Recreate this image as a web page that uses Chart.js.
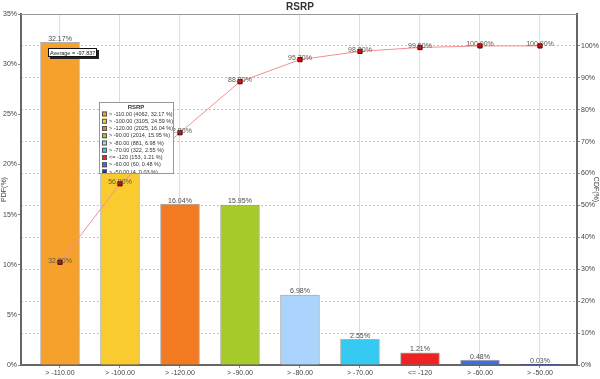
<!DOCTYPE html>
<html>
<head>
<meta charset="utf-8">
<script src="https://cdn.jsdelivr.net/npm/chart.js@4/dist/chart.umd.min.js"></script>
<style>
  body { margin: 0; background: #fff; }
  #wrap { width: 600px; height: 379px; }
</style>
</head>
<body>
<div id="wrap"><canvas id="rsrpChart" width="600" height="379"></canvas></div>
<script>
// bins of RSRP, in the order the source tool shows them
const categories = ["> -110.00", "> -100.00", "> -120.00", "> -90.00", "> -80.00", "> -70.00", "<= -120", "> -60.00", "> -50.00"];
const counts = [4062, 3105, 2025, 2014, 881, 322, 153, 60, 4];
const pdfValues = [32.17, 24.59, 16.04, 15.95, 6.98, 2.55, 1.21, 0.48, 0.03];
const cdfValues = [32.20, 56.80, 72.80, 88.80, 95.70, 98.30, 99.50, 100.00, 100.00];
const pdfTicks = [0, 5, 10, 15, 20, 25, 30, 35];
const cdfTicks = [0, 10, 20, 30, 40, 50, 60, 70, 80, 90, 100];
const averageText = "Average = -97.837";
const legendTitle = "RSRP";

const barColors = ["#F5A12B", "#F9CB2F", "#F27B22", "#A7CB2B", "#AAD4FB", "#36C9F2", "#EE2222", "#3D6FE0", "#1133CC"];

const FONT = '"Liberation Sans", Arial, sans-serif';
const tickFont = { family: FONT, size: 7 };

// value labels, average box and legend drawn over the plot
const overlay = {
  id: "overlay",
  afterDatasetsDraw(chart) {
    const ctx = chart.ctx;
    const a = chart.chartArea;
    ctx.save();

    // top border of the plot
    ctx.strokeStyle = "#999";
    ctx.lineWidth = 1;
    ctx.beginPath();
    ctx.moveTo(a.left, a.top + 0.5);
    ctx.lineTo(a.right, a.top + 0.5);
    ctx.stroke();

    ctx.font = "7px " + FONT;
    ctx.fillStyle = "#4a4a4a";
    ctx.textAlign = "center";
    ctx.textBaseline = "bottom";
    chart.getDatasetMeta(0).data.forEach((bar, i) => {
      ctx.fillText(pdfValues[i].toFixed(2) + "%", bar.x, bar.y);
    });
    ctx.fillStyle = "#5e5a4c";
    chart.getDatasetMeta(1).data.forEach((pt, i) => {
      ctx.fillText(cdfValues[i].toFixed(2) + "%", pt.x, pt.y + 2);
    });

    // average box
    ctx.fillStyle = "#222";
    ctx.fillRect(50, 50, 49, 9);
    ctx.fillStyle = "#fff";
    ctx.fillRect(48, 48, 49, 9);
    ctx.strokeStyle = "#111";
    ctx.strokeRect(48.5, 48.5, 48, 8);
    ctx.fillStyle = "#222";
    ctx.font = "5.5px " + FONT;
    ctx.textAlign = "left";
    ctx.textBaseline = "middle";
    ctx.fillText(averageText, 50, 53);

    // legend
    const lx = 99, ly = 102, lw = 74, lh = 71;
    ctx.fillStyle = "#fff";
    ctx.fillRect(lx, ly, lw, lh);
    ctx.strokeStyle = "#999";
    ctx.strokeRect(lx + 0.5, ly + 0.5, lw, lh);
    ctx.fillStyle = "#333";
    ctx.font = "bold 6px " + FONT;
    ctx.textAlign = "center";
    ctx.fillText(legendTitle, lx + lw / 2, ly + 5);
    ctx.font = "5.5px " + FONT;
    ctx.textAlign = "left";
    ctx.beginPath();
    ctx.rect(lx, ly, lw, lh);
    ctx.clip();
    categories.forEach((c, i) => {
      const y = ly + 12 + i * 7.25;
      ctx.fillStyle = barColors[i];
      ctx.fillRect(lx + 3, y - 2.5, 5, 5);
      ctx.strokeStyle = "#555";
      ctx.strokeRect(lx + 3.5, y - 2, 4, 4);
      ctx.fillStyle = "#333";
      ctx.fillText(c + " (" + counts[i] + ", " + pdfValues[i].toFixed(2) + " %)", lx + 10, y);
    });
    ctx.restore();
  }
};

new Chart(document.getElementById("rsrpChart"), {
  type: "bar",
  data: {
    datasets: [
      {
        type: "bar",
        label: "PDF",
        data: pdfValues.map((v, i) => ({ x: i, y: v })),
        backgroundColor: barColors,
        borderColor: "rgba(110,110,110,0.55)",
        borderWidth: 1,
        barThickness: 39,
        yAxisID: "y",
        order: 2
      },
      {
        type: "line",
        label: "CDF",
        data: cdfValues.map((v, i) => ({ x: i, y: v })),
        borderColor: "#F29090",
        borderWidth: 1,
        pointStyle: "rect",
        pointRadius: 3,
        pointBackgroundColor: "#E00000",
        pointBorderColor: "#5a0000",
        pointBorderWidth: 1,
        yAxisID: "y1",
        order: 1
      }
    ]
  },
  options: {
    responsive: false,
    animation: false,
    layout: { padding: 0 },
    plugins: {
      legend: { display: false },
      tooltip: { enabled: false },
      title: {
        display: true,
        text: "RSRP",
        color: "#333",
        font: { family: FONT, size: 10, weight: "bold" },
        padding: { top: 1, bottom: 1 }
      }
    },
    scales: {
      x: {
        type: "linear",
        offset: false,
        min: -0.65,
        max: 8.617,
        afterBuildTicks: s => { s.ticks = categories.map((_, i) => ({ value: i })); },
        afterFit: s => { s.height = 14; },
        ticks: {
          callback: v => categories[v],
          font: tickFont,
          color: "#444",
          padding: 1,
          maxRotation: 0,
          autoSkip: false
        },
        grid: { offset: false, color: "#dedede", lineWidth: 1, tickLength: 3, tickColor: "#888" },
        border: { color: "#666", width: 2 }
      },
      y: {
        position: "left",
        min: 0,
        max: 35,
        afterBuildTicks: s => { s.ticks = pdfTicks.map(v => ({ value: v })); },
        afterFit: s => { s.width = 21; },
        ticks: { callback: v => v + "%", font: tickFont, color: "#444", padding: 1 },
        grid: { drawOnChartArea: false, tickLength: 3, tickColor: "#888" },
        border: { color: "#666", width: 2 },
        title: { display: true, text: "PDF(%)", font: tickFont, color: "#444", padding: 0 }
      },
      y1: {
        position: "right",
        min: 0,
        max: 110,
        afterBuildTicks: s => { s.ticks = cdfTicks.map(v => ({ value: v })); },
        afterFit: s => { s.width = 23; },
        ticks: { callback: v => v + "%", font: tickFont, color: "#444", padding: 1 },
        grid: { color: "#c2c2c2", tickLength: 3, tickColor: "#888" },
        border: { color: "#666", width: 2, dash: [2, 2] },
        title: { display: true, text: "CDF(%)", font: tickFont, color: "#444", padding: 0 }
      }
    }
  },
  plugins: [overlay]
});
</script>
</body>
</html>
